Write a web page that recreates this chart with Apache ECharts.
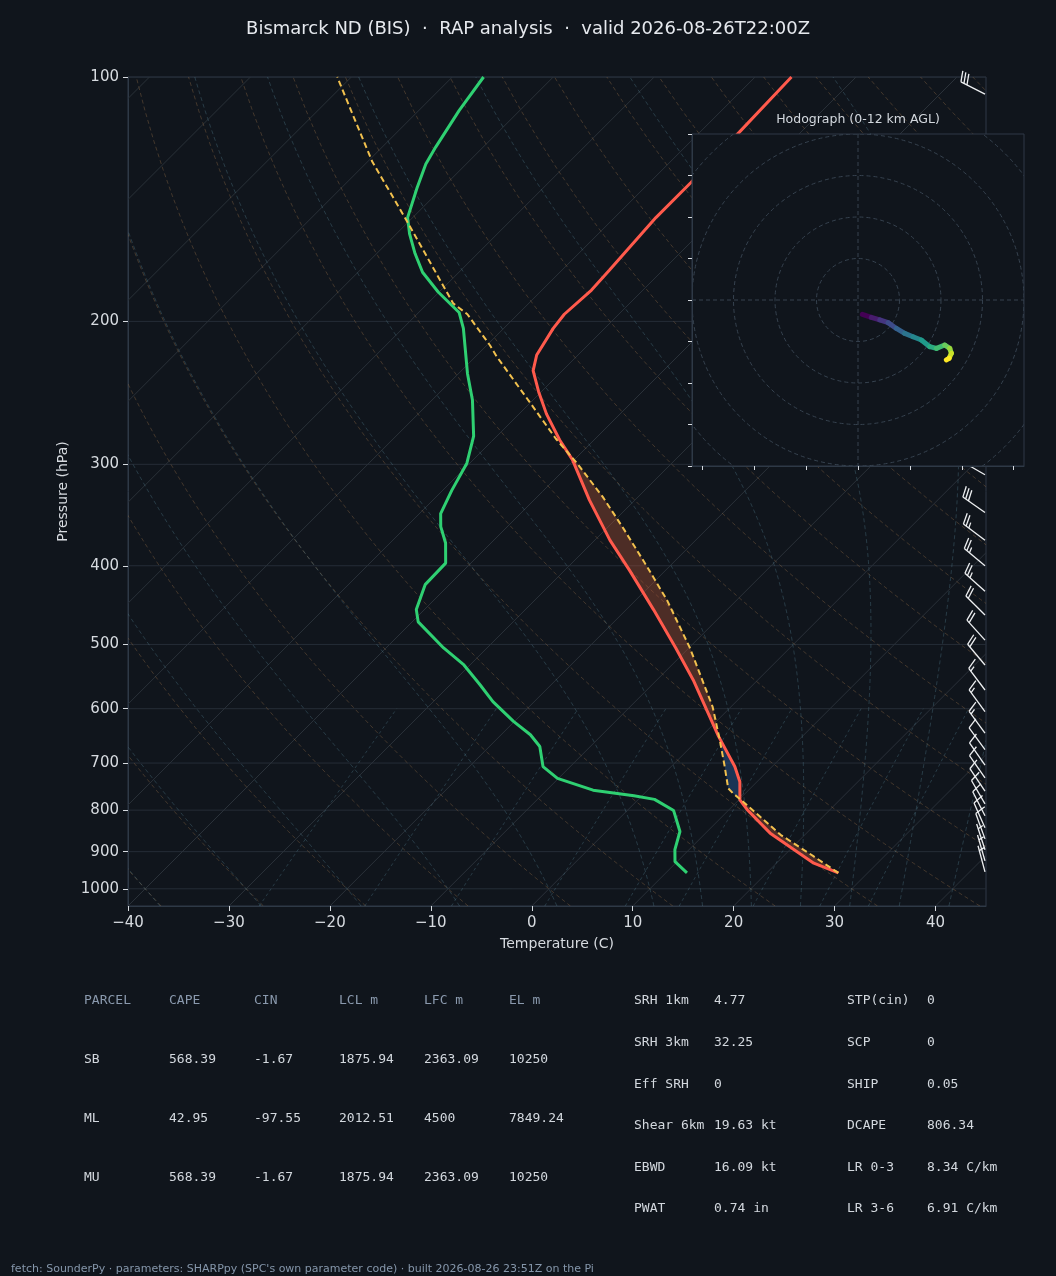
<!DOCTYPE html>
<html>
<head>
<meta charset="utf-8">
<title>Skew-T BIS</title>
<script src="https://cdn.jsdelivr.net/npm/echarts@6/dist/echarts.min.js"></script>
<style>
html, body { margin: 0; padding: 0; background: #10151c; }
#chart { width: 1056px; height: 1276px; }
</style>
</head>
<body>
<div id="chart"></div>
<script>
// sounding: pressure (hPa) and temperature (C)
var tempP = [956, 930, 854, 799, 777, 738, 707, 649, 553, 505, 453, 405, 372, 332, 296, 280, 260, 244, 230, 220, 204, 196, 183, 173, 149, 135, 117, 100];
var tempC = [27.1, 23.7, 16.4, 11.8, 10.1, 8.3, 6.3, 1.7, -6.4, -11.3, -17.3, -23.6, -28.5, -34.5, -40.2, -43.4, -47.3, -50.3, -52.9, -54.1, -55.1, -55.4, -55.1, -55.3, -55.9, -55.9, -56.1, -56.4];
var dewP = [956, 926, 895, 850, 801, 776, 768, 756, 731, 707, 668, 646, 622, 588, 561, 530, 505, 469, 453, 422, 397, 375, 358, 345, 323, 299, 277, 250, 232, 204, 195, 184, 174, 165, 156, 149, 137, 128, 122, 110, 100];
var dewC = [12.1, 9.8, 8.6, 7.3, 4.6, 1.6, -0.8, -5.4, -10.1, -12.7, -15.0, -17.1, -20.1, -24.1, -27.0, -30.6, -34.3, -39.4, -40.8, -42.4, -42.5, -44.5, -46.6, -47.9, -49.1, -50.3, -52.3, -56.0, -59.1, -64.0, -66.0, -70.1, -73.6, -76.2, -78.7, -80.5, -82.5, -84.0, -84.7, -86.0, -86.9];
var parcelP = [956, 911, 858, 781, 763, 752, 707, 656, 597, 505, 441, 401, 360, 329, 299, 279, 252, 221, 214, 196, 190, 150, 127, 100];
var parcelC = [27.1, 22.9, 17.6, 10.6, 8.8, 7.8, 5.3, 2.2, -1.8, -9.9, -16.9, -22.2, -28.3, -33.5, -39.4, -43.9, -50.0, -57.9, -59.7, -65.0, -67.5, -80.4, -89.6, -101.4];

// wind barbs: pressure, speed (kt), direction (deg)
var barbP = [105, 140, 170, 205, 240, 275, 309, 344, 372, 400, 430, 460, 494, 530, 569, 605, 643, 674, 704, 730, 758, 786, 813, 841, 868, 895, 924, 953];
var barbKt = [30, 40, 45, 45, 40, 40, 35, 30, 25, 25, 25, 20, 20, 20, 15, 15, 15, 10, 10, 10, 10, 10, 10, 10, 10, 5, 5, 5];
var barbDir = [297, 295, 295, 298, 300, 300, 300, 305, 307, 310, 312, 315, 318, 320, 323, 324, 324, 324, 325, 325, 326, 330, 333, 336, 340, 342, 344, 345];

// hodograph trace 0-12 km (kt)
var hodoU = [2.1, 6.4, 10.5, 14.5, 18.5, 22.5, 26.5, 30.5, 34.6, 37.8, 41.8, 44.2, 45.0, 43.9, 42.6];
var hodoV = [-6.9, -8.4, -9.6, -10.9, -13.7, -16.1, -17.7, -19.3, -22.5, -23.3, -21.7, -23.3, -25.7, -28.1, -28.9];
var hodoRings = [20, 40, 60, 80, 100];

var pressTicks = [100, 200, 300, 400, 500, 600, 700, 800, 900, 1000];
var tempTicks = [-40, -30, -20, -10, 0, 10, 20, 30, 40];
var hodoXTicks = [-75, -50, -25, 0, 25, 50, 75];

var parcelHead = ['PARCEL', 'CAPE', 'CIN', 'LCL m', 'LFC m', 'EL m'];
var parcelRows = [
    ['SB', '568.39', '-1.67', '1875.94', '2363.09', '10250'],
    ['ML', '42.95', '-97.55', '2012.51', '4500', '7849.24'],
    ['MU', '568.39', '-1.67', '1875.94', '2363.09', '10250']
];
var statRows = [
    ['SRH 1km', '4.77', 'STP(cin)', '0'],
    ['SRH 3km', '32.25', 'SCP', '0'],
    ['Eff SRH', '0', 'SHIP', '0.05'],
    ['Shear 6km', '19.63 kt', 'DCAPE', '806.34'],
    ['EBWD', '16.09 kt', 'LR 0-3', '8.34 C/km'],
    ['PWAT', '0.74 in', 'LR 3-6', '6.91 C/km']
];

var BG = '#10151c';
var SPINE = '#2e3946';
var TXT = '#d7dbe0';
var VIRIDIS = ['#440154', '#482878', '#3e4989', '#31688e', '#26828e', '#1f9e89', '#35b779', '#6ece58', '#b5de2b', '#fde725'];

var gridL = 128, gridT = 77, gridW = 858, gridH = 829;
var tMin = -40, tMax = 45, pTop = 100, pBot = 1050;
// skew so isotherms run at 45 degrees on screen
var K = (gridH / Math.log10(pBot / pTop)) / (gridW / (tMax - tMin));
function sx(t, p) { return t + K * Math.log10(pBot / p); }
function skewPairs(ps, ts) {
    return ps.map(function (p, i) { return [sx(ts[i], p), p]; });
}
function minus(v) { return String(v).replace('-', '\u2212'); }
function viridis(f) {
    var x = Math.max(0, Math.min(1, f)) * (VIRIDIS.length - 1);
    var i = Math.min(Math.floor(x), VIRIDIS.length - 2), k = x - i;
    function ch(hex, o) { return parseInt(hex.substr(o, 2), 16); }
    var a = VIRIDIS[i], b = VIRIDIS[i + 1];
    return 'rgb(' + [1, 3, 5].map(function (o) {
        return Math.round(ch(a, o) + k * (ch(b, o) - ch(a, o)));
    }).join(',') + ')';
}

// ---- background lines of the diagram ----
var isotherms = [], dryLines = [], moistLines = [], mixLines = [], hLines = [];
var t, p;
for (t = -130; t <= 50; t += 10) {
    isotherms.push([[sx(t, pBot), pBot], [sx(t, pTop), pTop]]);
}
pressTicks.forEach(function (pp) { hLines.push([[tMin, pp], [tMax, pp]]); });
for (t = -50; t <= 200; t += 10) {
    var dl = [];
    for (p = pBot; p >= pTop; p -= 10) {
        dl.push([sx((t + 273.15) * Math.pow(p / 1000, 0.2857) - 273.15, p), p]);
    }
    dryLines.push(dl);
}
function moistDTdP(tk, pp) {
    var tc = tk - 273.15;
    var es = 6.112 * Math.exp(17.67 * tc / (tc + 243.5));
    var rs = 0.62197 * es / (pp - es);
    var num = 287.04 * tk + 2.501e6 * rs;
    var den = 1005.7 + (2.501e6 * 2.501e6 * rs * 0.62197) / (287.04 * tk * tk);
    return num / den / pp;
}
function moistRun(t0, pEnd, dp) {
    var tk = t0 + 273.15, pp = 1000, out = [[pp, tk]];
    while ((dp < 0 && pp > pEnd) || (dp > 0 && pp < pEnd)) {
        var k1 = moistDTdP(tk, pp);
        var k2 = moistDTdP(tk + k1 * dp / 2, pp + dp / 2);
        var k3 = moistDTdP(tk + k2 * dp / 2, pp + dp / 2);
        var k4 = moistDTdP(tk + k3 * dp, pp + dp);
        tk += dp * (k1 + 2 * k2 + 2 * k3 + k4) / 6;
        pp += dp;
        out.push([pp, tk]);
    }
    return out;
}
[-50, -40, -30, -20, -10, 0, 10, 15, 20, 25, 30, 35, 40, 45].forEach(function (t0) {
    var pts = moistRun(t0, pBot, 5).reverse().concat(moistRun(t0, pTop, -5).slice(1));
    moistLines.push(pts.map(function (q) { return [sx(q[1] - 273.15, q[0]), q[0]]; }));
});
[0.0004, 0.001, 0.002, 0.004, 0.007, 0.01, 0.016, 0.024, 0.032].forEach(function (w) {
    var ml = [];
    for (p = pBot; p >= 600; p -= 10) {
        var e = p * w / (0.622 + w);
        var l = Math.log(e / 6.112);
        ml.push([sx(243.5 * l / (17.67 - l), p), p]);
    }
    mixLines.push(ml);
});

// ---- CAPE / CIN areas ----
function interpLogP(ps, vs, pp) {
    for (var i = 0; i < ps.length - 1; i++) {
        if (pp <= ps[i] && pp >= ps[i + 1]) {
            var f = Math.log(ps[i] / pp) / Math.log(ps[i] / ps[i + 1]);
            return vs[i] + f * (vs[i + 1] - vs[i]);
        }
    }
    return NaN;
}
var fillRuns = [];
(function () {
    var run = null, seenNeg = false, aboveLfc = false;
    for (var pp = tempP[0]; pp >= 150; pp -= 2) {
        var tt = interpLogP(tempP, tempC, pp), tp = interpLogP(parcelP, parcelC, pp);
        var sign = tp >= tt ? 1 : -1;
        if (sign < 0) seenNeg = true;
        if (sign > 0 && seenNeg) aboveLfc = true;
        if (sign < 0 && aboveLfc) break;
        var pt = [pp, tt, tp];
        if (!run || run.sign !== sign) {
            var prev = run ? run.pts[run.pts.length - 1] : null;
            run = { sign: sign, pts: prev ? [prev] : [] };
            fillRuns.push(run);
        }
        run.pts.push(pt);
    }
})();

function clipOf(params) {
    var cs = params.coordSys;
    return { type: 'rect', shape: { x: cs.x, y: cs.y, width: cs.width, height: cs.height } };
}
function bgLines(lines, style) {
    return {
        type: 'custom', xAxisIndex: 0, yAxisIndex: 0, silent: true, z: 1,
        data: lines.map(function (l, i) { return [i, 500]; }),
        renderItem: function (params, api) {
            var pts = lines[params.dataIndex].map(function (q) { return api.coord(q); });
            return {
                type: 'polyline', shape: { points: pts },
                style: { stroke: style.stroke, lineWidth: 1, lineDash: style.dash || null, fill: null },
                clipPath: clipOf(params)
            };
        }
    };
}

// ---- wind barbs ----
var barbX = 44.9, barbLen = 27;
function renderBarb(params, api) {
    var i = params.dataIndex;
    var base = api.coord([barbX, barbP[i]]);
    var spd = Math.round(barbKt[i] / 5) * 5;
    var rad = barbDir[i] * Math.PI / 180;
    var u = -spd * Math.sin(rad), v = -spd * Math.cos(rad);
    var n = Math.sqrt(u * u + v * v) || 1;
    var sxv = -u / n, syv = v / n;
    var pxv = -v / n, pyv = -u / n;
    var L = barbLen, h = 0.4 * L, w = 0.25 * L, sp = 0.125 * L;
    function at(off, side) {
        return [base[0] + sxv * off + pxv * side, base[1] + syv * off + pyv * side];
    }
    var kids = [{ type: 'line', shape: { x1: base[0], y1: base[1], x2: at(L, 0)[0], y2: at(L, 0)[1] } }];
    var off = L;
    var flags = Math.floor(spd / 50), fulls = Math.floor((spd % 50) / 10), half = (spd % 10) >= 5;
    var k, a, b, c;
    for (k = 0; k < flags; k++) {
        a = at(off, 0); b = at(off - w / 2, h); c = at(off - w, 0);
        kids.push({ type: 'polygon', shape: { points: [a, b, c] } });
        off -= w + sp;
    }
    for (k = 0; k < fulls; k++) {
        a = at(off, 0); b = at(off + w / 2, h);
        kids.push({ type: 'line', shape: { x1: a[0], y1: a[1], x2: b[0], y2: b[1] } });
        off -= sp;
    }
    if (half) {
        if (off === L) off -= 1.5 * sp;
        a = at(off, 0); b = at(off + w / 4, h / 2);
        kids.push({ type: 'line', shape: { x1: a[0], y1: a[1], x2: b[0], y2: b[1] } });
    }
    kids.forEach(function (el) {
        el.style = { stroke: '#eef0f2', lineWidth: 1.3, fill: el.type === 'polygon' ? '#eef0f2' : null };
    });
    return { type: 'group', children: kids };
}

// ---- hodograph ----
function renderHodoGrid(params, api) {
    var c = api.coord([0, 0]);
    var cs = params.coordSys;
    var kids = hodoRings.map(function (r) {
        return {
            type: 'circle', shape: { cx: c[0], cy: c[1], r: api.size([r, 0])[0] },
            style: { stroke: '#36424f', lineWidth: 1, lineDash: [4, 3], fill: null }
        };
    });
    kids.push({ type: 'line', shape: { x1: cs.x, y1: c[1], x2: cs.x + cs.width, y2: c[1] },
        style: { stroke: '#36424f', lineWidth: 1, lineDash: [4, 3] } });
    kids.push({ type: 'line', shape: { x1: c[0], y1: cs.y, x2: c[0], y2: cs.y + cs.height },
        style: { stroke: '#36424f', lineWidth: 1, lineDash: [4, 3] } });
    return { type: 'group', children: kids, clipPath: clipOf(params) };
}
function renderHodoSeg(params, api) {
    var i = params.dataIndex;
    if (i >= hodoU.length - 1) return null;
    var a = api.coord([hodoU[i], hodoV[i]]), b = api.coord([hodoU[i + 1], hodoV[i + 1]]);
    return {
        type: 'line', shape: { x1: a[0], y1: a[1], x2: b[0], y2: b[1] },
        style: { stroke: viridis(i / (hodoU.length - 2)), lineWidth: 5, lineCap: 'round' }
    };
}

var series = [];
series.push(bgLines(hLines, { stroke: '#252d37' }));
series.push(bgLines(isotherms, { stroke: '#2a3139' }));
series.push(bgLines(dryLines, { stroke: 'rgba(150,110,70,0.38)', dash: [4, 3] }));
series.push(bgLines(moistLines, { stroke: 'rgba(90,140,160,0.32)', dash: [4, 3] }));
series.push(bgLines(mixLines, { stroke: 'rgba(90,140,160,0.32)', dash: [3, 3] }));
series.push({
    type: 'custom', name: 'CAPE/CIN', xAxisIndex: 0, yAxisIndex: 0, silent: true, z: 2,
    data: fillRuns.map(function (r, i) { return [i, 500]; }),
    renderItem: function (params, api) {
        var r = fillRuns[params.dataIndex];
        var side1 = r.pts.map(function (q) { return api.coord([sx(q[1], q[0]), q[0]]); });
        var side2 = r.pts.slice().reverse().map(function (q) { return api.coord([sx(q[2], q[0]), q[0]]); });
        return {
            type: 'polygon', shape: { points: side1.concat(side2) },
            style: { fill: r.sign > 0 ? 'rgba(180,85,55,0.38)' : 'rgba(48,102,180,0.38)', stroke: null }
        };
    }
});
series.push({
    type: 'line', name: 'Parcel', xAxisIndex: 0, yAxisIndex: 0, z: 5, silent: true,
    data: skewPairs(parcelP, parcelC), showSymbol: false,
    lineStyle: { color: '#f2c14e', width: 2, type: [6, 3.5] }
});
series.push({
    type: 'line', name: 'Temperature', xAxisIndex: 0, yAxisIndex: 0, z: 4, silent: true,
    data: skewPairs(tempP, tempC), showSymbol: false,
    lineStyle: { color: '#ff5a4c', width: 3 }
});
series.push({
    type: 'line', name: 'Dewpoint', xAxisIndex: 0, yAxisIndex: 0, z: 4, silent: true,
    data: skewPairs(dewP, dewC), showSymbol: false,
    lineStyle: { color: '#2fd072', width: 3 }
});
series.push({
    type: 'custom', name: 'Wind', xAxisIndex: 0, yAxisIndex: 0, z: 6, silent: true,
    data: barbP.map(function (pp) { return [barbX, pp]; }),
    renderItem: renderBarb
});
series.push({
    type: 'custom', name: 'HodoGrid', xAxisIndex: 1, yAxisIndex: 1, z: 11, silent: true,
    data: [[0, 0]], renderItem: renderHodoGrid
});
series.push({
    type: 'custom', name: 'Hodograph', xAxisIndex: 1, yAxisIndex: 1, z: 12, silent: true,
    data: hodoU.map(function (u, i) { return [u, hodoV[i]]; }),
    renderItem: renderHodoSeg
});

// ---- text blocks under the chart ----
var graphics = [];
function txt(x, y, s, color, font, align) {
    graphics.push({
        type: 'text', x: x, y: y, z: 30, silent: true,
        style: { text: s, fill: color, font: font, textAlign: align || 'left', textVerticalAlign: 'middle',
            align: align || 'left', verticalAlign: 'middle' }
    });
}
var mono = '13px "DejaVu Sans Mono", monospace';
var tableCols = [84, 169, 254, 339, 424, 509];
parcelHead.forEach(function (h, i) { txt(tableCols[i], 1001, h, '#8a99ad', mono); });
parcelRows.forEach(function (row, r) {
    row.forEach(function (cell, i) { txt(tableCols[i], 1060 + r * 59, cell, '#d3d8de', mono); });
});
var statCols = [634, 714, 847, 927];
statRows.forEach(function (row, r) {
    row.forEach(function (cell, i) { txt(statCols[i], 1001 + r * 41.6, cell, '#d3d8de', mono); });
});
txt(858, 120, 'Hodograph (0-12 km AGL)', '#d3d8de', '12.5px "DejaVu Sans", sans-serif', 'center');
txt(11, 1269, 'fetch: SounderPy \u00b7 parameters: SHARPpy (SPC\'s own parameter code) \u00b7 built 2026-08-26 23:51Z on the Pi',
    '#8596aa', '11px "DejaVu Sans", sans-serif');

var option = {
    backgroundColor: BG,
    animation: false,
    textStyle: { fontFamily: '"DejaVu Sans", sans-serif' },
    title: {
        text: 'Bismarck ND (BIS)  \u00b7  RAP analysis  \u00b7  valid 2026-08-26T22:00Z',
        left: 'center', top: 15,
        textStyle: { color: '#e6e9ee', fontSize: 18, fontWeight: 'normal', fontFamily: '"DejaVu Sans", sans-serif' }
    },
    grid: [
        { left: gridL, top: gridT, width: gridW, height: gridH, show: true, borderColor: SPINE, borderWidth: 1,
            backgroundColor: 'transparent', containLabel: false },
        { left: 692, top: 134, width: 332, height: 332, show: true, borderColor: SPINE, borderWidth: 1,
            backgroundColor: BG, containLabel: false, z: 9 }
    ],
    xAxis: [
        {
            gridIndex: 0, type: 'value', min: tMin, max: tMax,
            axisLine: { show: true, onZero: false, lineStyle: { color: SPINE } },
            axisTick: { show: true, length: 5, customValues: tempTicks, lineStyle: { color: TXT } },
            axisLabel: { color: TXT, fontSize: 15, margin: 10, customValues: tempTicks, formatter: minus },
            splitLine: { show: false },
            name: 'Temperature (C)', nameLocation: 'middle', nameGap: 31,
            nameTextStyle: { color: TXT, fontSize: 14 }
        },
        {
            gridIndex: 1, type: 'value', min: -80, max: 80, z: 12,
            axisLine: { show: true, onZero: false, lineStyle: { color: SPINE } },
            axisTick: { show: true, length: 4, customValues: hodoXTicks, lineStyle: { color: TXT } },
            axisLabel: { show: false }, splitLine: { show: false }
        }
    ],
    yAxis: [
        {
            gridIndex: 0, type: 'log', logBase: 10, min: pTop, max: pBot, inverse: true,
            axisLine: { show: true, onZero: false, lineStyle: { color: SPINE } },
            axisTick: { show: true, length: 5, customValues: pressTicks, lineStyle: { color: TXT } },
            axisLabel: { color: TXT, fontSize: 15, margin: 9, customValues: pressTicks,
                formatter: function (v) { return String(Math.round(v)); } },
            splitLine: { show: false },
            name: 'Pressure (hPa)', nameLocation: 'middle', nameGap: 52, nameRotate: 90,
            nameTextStyle: { color: TXT, fontSize: 14 }
        },
        {
            gridIndex: 1, type: 'value', min: -80, max: 80, interval: 20, z: 12,
            axisLine: { show: true, onZero: false, lineStyle: { color: SPINE } },
            axisTick: { show: true, length: 4, lineStyle: { color: TXT } },
            axisLabel: { show: false }, splitLine: { show: false }
        }
    ],
    graphic: graphics,
    series: series
};

var chart = echarts.init(document.getElementById('chart'));
chart.setOption(option);
</script>
</body>
</html>
